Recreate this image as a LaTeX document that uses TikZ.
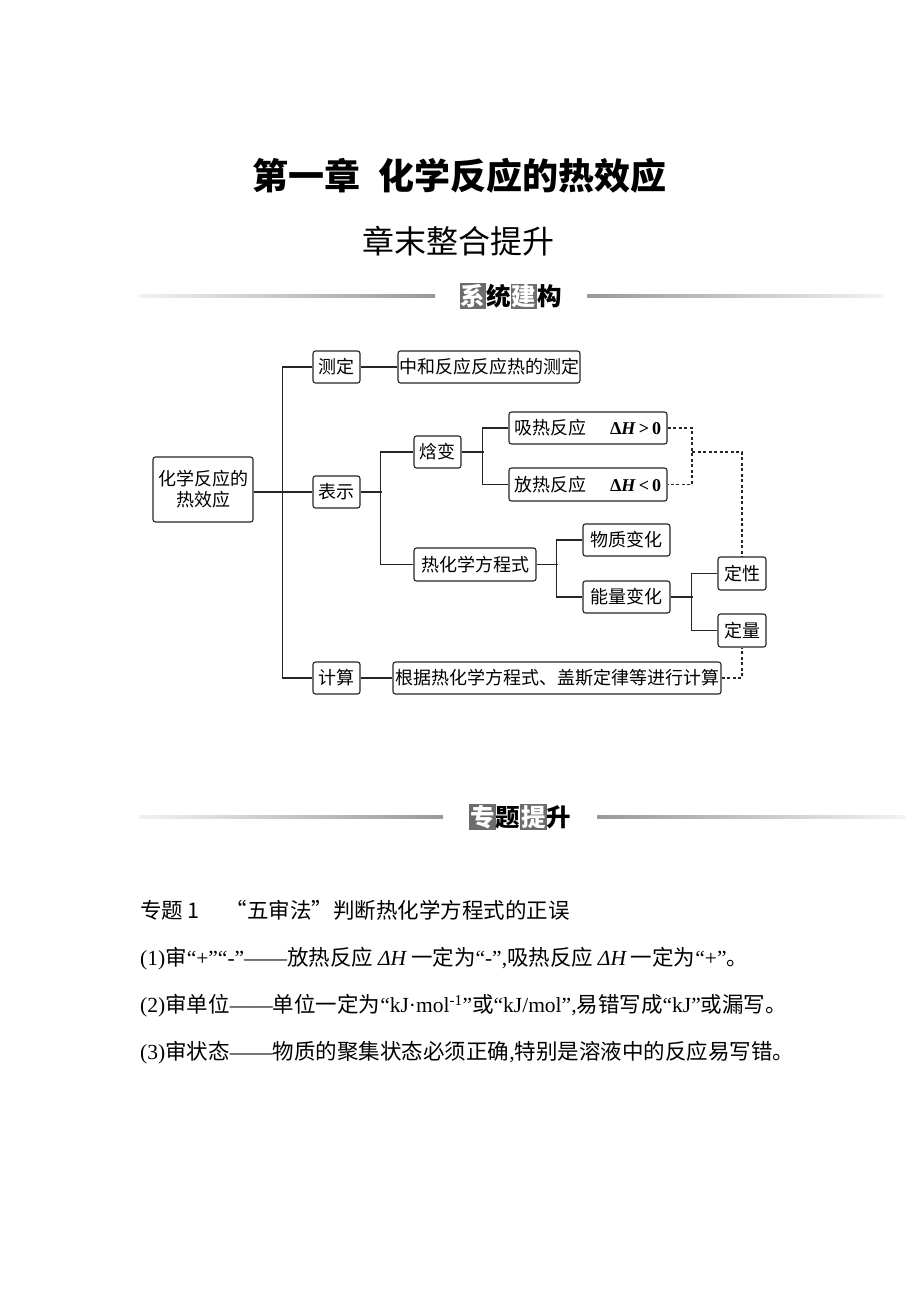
\documentclass[tikz,border=0pt]{standalone}
\usepackage{fontspec}
\setmainfont{Noto Sans CJK SC}
\newfontfamily\tm{Liberation Serif}
\newcommand{\hlchar}[1]{{\setlength\fboxsep{1pt}\colorbox{gray!85!black}{\color{white}#1}}}
\begin{document}
\begin{tikzpicture}[x=1pt, y=-1pt,
    box/.style={draw=black!85, line width=1.1pt, rounded corners=2.5pt, inner sep=0pt,
        minimum height=32pt, font=\fontsize{18}{21}\selectfont},
    link/.style={draw=black!85, line width=1.1pt},
    dlink/.style={link, dash pattern=on 3pt off 2.5pt},
    head/.style={font=\fontsize{24.5}{28}\selectfont\bfseries, inner sep=0pt},
    txt/.style={anchor=west, inner sep=0pt, font=\fontsize{21.5}{26}\selectfont}]
    \useasboundingbox[fill=white] (0,0) rectangle (920,1302);

    \node[font=\fontsize{36}{40}\selectfont\bfseries] (title) at (459.5,176) {第一章\hspace{0.5em}化学反应的热效应};
    \node[font=\fontsize{32}{36}\selectfont] (subtitle) at (458,241) {章末整合提升};

    \shade[left color=gray!10, right color=gray!80] (139,294) rectangle (435,297.5);
    \node[head] (sys) at (510.5,296) {\hlchar{系}统\hlchar{建}构};
    \shade[left color=gray!80, right color=gray!10] (587,294) rectangle (883,297.5);

    \node[box, minimum width=100pt, minimum height=65pt, align=center] (root) at (203,489.5) {化学反应的\\热效应};
    \node[box, minimum width=47pt] (ceding) at (336.5,367) {测定};
    \node[box, minimum width=182pt] (zhonghe) at (489,367) {中和反应反应热的测定};
    \node[box, minimum width=47pt] (biaoshi) at (336.5,492) {表示};
    \node[box, minimum width=47pt] (jisuan) at (336.5,678) {计算};
    \node[box, minimum width=328pt] (genju) at (557,678) {根据热化学方程式、盖斯定律等进行计算};
    \node[box, minimum width=47pt] (hanbian) at (437.5,452) {焓变};
    \node[box, minimum width=158pt] (xire) at (588,428) {吸热反应\hspace{1.3em}{\tm\bfseries Δ\textit{H}\,>\,0}};
    \node[box, minimum width=158pt, minimum height=33pt] (fangre) at (588,484.5) {放热反应\hspace{1.3em}{\tm\bfseries Δ\textit{H}\,<\,0}};
    \node[box, minimum width=122pt, minimum height=33pt] (rehua) at (475,564.5) {热化学方程式};
    \node[box, minimum width=87pt] (wuzhi) at (626.5,540) {物质变化};
    \node[box, minimum width=87pt] (nengliang) at (626.5,597) {能量变化};
    \node[box, minimum width=48pt, minimum height=33pt] (dingxing) at (742,573.5) {定性};
    \node[box, minimum width=48pt, minimum height=33pt] (dingliang) at (742,630.5) {定量};

    \draw[link] (root.east |- biaoshi.west) -- (biaoshi.west);
    \draw[link] (ceding.west) -- ++(-30,0) |- (jisuan.west);
    \draw[link] (ceding) -- (zhonghe);
    \draw[link] (jisuan) -- (genju);
    \draw[link] (biaoshi.east) -- ++(21,0);
    \draw[link] (hanbian.west) -- ++(-33,0) |- (rehua.west);
    \draw[link] (hanbian.east) -- ++(22,0);
    \draw[link] (xire.west) -- ++(-26,0) |- (fangre.west);
    \draw[link] (rehua.east) -- ++(21,0);
    \draw[link] (wuzhi.west) -- ++(-26,0) |- (nengliang.west);
    \draw[link] (nengliang.east) -- ++(22,0);
    \draw[link] (dingxing.west) -- ++(-26,0) |- (dingliang.west);
    \coordinate (hmid) at (692,452);
    \draw[dlink] (xire.east) -| (hmid) |- (fangre.east);
    \draw[dlink] (hmid) -| (dingxing.north);
    \draw[dlink] (genju.east) -| (dingliang.south);

    \shade[left color=gray!10, right color=gray!80] (139,815) rectangle (443,818.5);
    \node[head] (topic) at (520,817) {\hlchar{专}题\hlchar{提}升};
    \shade[left color=gray!80, right color=gray!10] (597,815) rectangle (905,818.5);

    \node[txt] (l0) at (140,910) {专题 1\hspace{1.2em}“五审法”判断热化学方程式的正误};
    \node[txt] (l1) at (140,959) {{\tm (1)}审{\tm “+”“-”——}放热反应 {\tm\itshape ΔH} 一定为{\tm “-”,}吸热反应 {\tm\itshape ΔH} 一定为{\tm “+”}。};
    \node[txt] (l2) at (140,1006) {{\tm (2)}审单位{\tm ——}单位一定为{\tm “kJ·mol\textsuperscript{-1}”}或{\tm “kJ/mol”,}易错写成{\tm “kJ”}或漏写。};
    \node[txt] (l3) at (140,1053) {{\tm (3)}审状态{\tm ——}物质的聚集状态必须正确{\tm ,}特别是溶液中的反应易写错。};
\end{tikzpicture}
\end{document}
